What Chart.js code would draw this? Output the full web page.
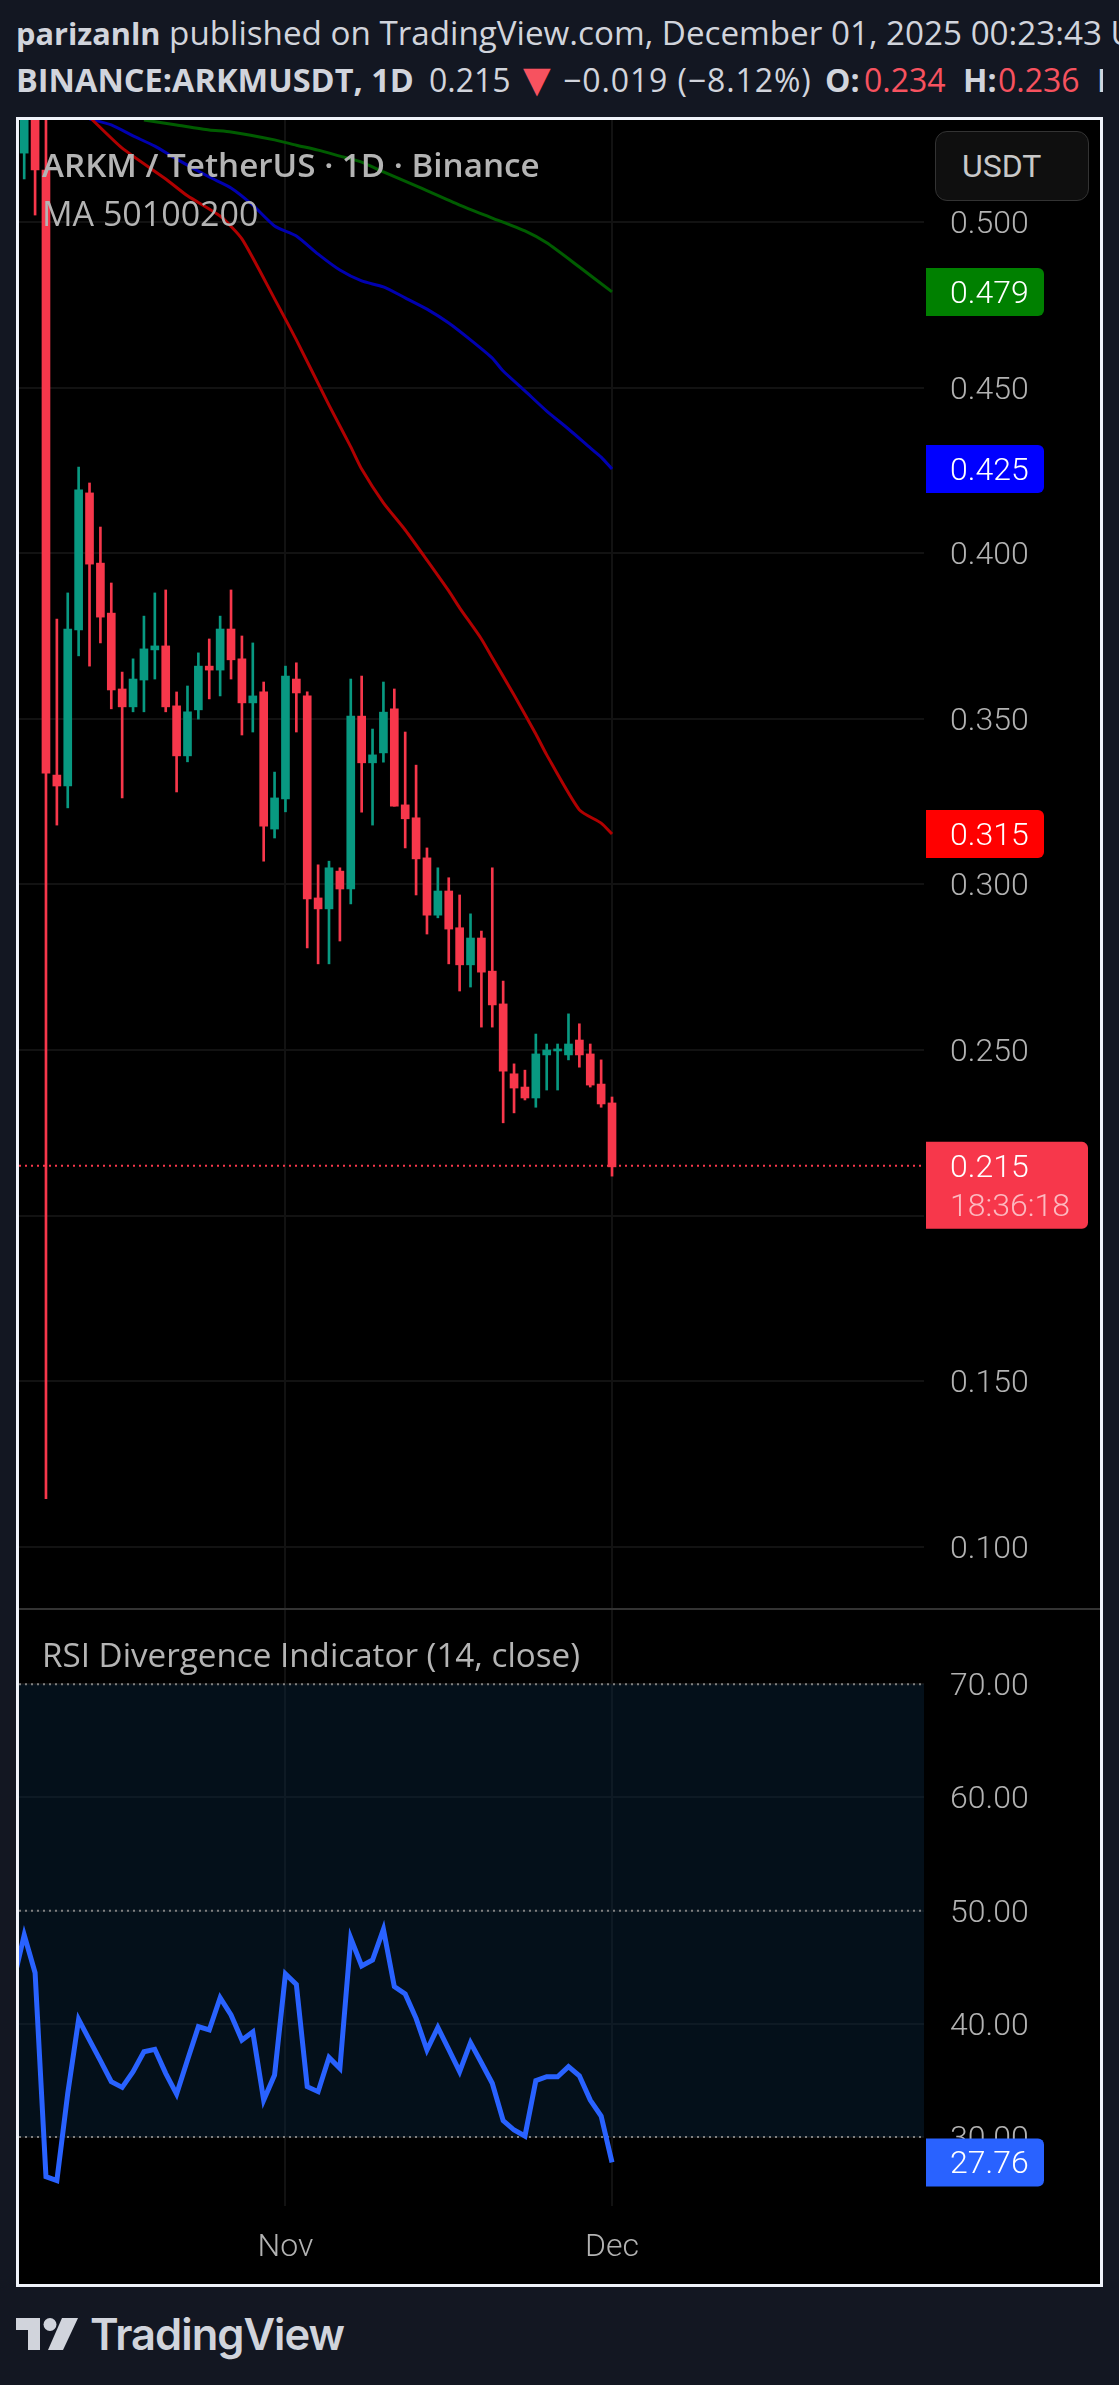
<!DOCTYPE html>
<html>
<head>
<meta charset="utf-8">
<title>ARKMUSDT</title>
<script src="https://cdn.jsdelivr.net/npm/chart.js@4/dist/chart.umd.js"></script>
<style>
    html, body { margin: 0; padding: 0; background: #131722; }
    body { width: 1119px; height: 2385px; position: relative; overflow: hidden; }
    .head { position: absolute; white-space: nowrap; font-family: "Open Sans", sans-serif; font-size: 32px; color: #d1d4dc; line-height: 44px; }
    .head b { font-weight: 700; }
    .red { color: #f7525f; }
    #frame { position: absolute; left: 16px; top: 117px; width: 1081px; height: 2164px; border: 3px solid #f0f3fa; background: #000; }
    #frame canvas { position: absolute; left: 0; }
    #sep { position: absolute; left: 0; top: 1488px; width: 1081px; height: 2px; background: #333; }
    .legend { position: absolute; left: 23px; white-space: nowrap; font-family: "Open Sans", sans-serif; font-size: 33.2px; line-height: 40px; color: #b4b4b4; }
    #usdt { position: absolute; left: 916px; top: 11px; width: 152px; height: 68px; border: 1px solid #333; border-radius: 12px; background: #0f0f0f;
            font-family: Roboto, sans-serif; font-size: 32px; line-height: 68px; color: #c8c8c8; padding-left: 0; text-indent: 26px; }
    #logoText { position: absolute; left: 90px; top: 2306px; font-family: Inter, sans-serif; font-weight: 600; font-size: 43.5px; line-height: 56px; color: #d1d4dc; letter-spacing: -1px; }
    #logo { position: absolute; left: 16px; top: 2318px; }
</style>
</head>
<body>
<div class="head" style="left:16px;top:11px;font-size:33.2px"><b style="font-size:30.7px">parizanln</b> published on TradingView.com, December 01, 2025 00:23:43 UTC</div>
<div class="head" style="left:16px;top:58px;font-size:32.5px"><b>BINANCE:ARKMUSDT, 1D</b></div>
<div class="head" style="left:429px;top:58px">0.215</div>
<div class="head red" style="left:523px;top:58px;font-family:'DejaVu Sans';font-size:36px">▼</div>
<div class="head" style="left:563px;top:58px;letter-spacing:0.9px">−0.019 (−8.12%)</div>
<div class="head" style="left:825px;top:58px"><b>O:</b></div>
<div class="head red" style="left:864px;top:58px">0.234</div>
<div class="head" style="left:963px;top:58px"><b>H:</b></div>
<div class="head red" style="left:998px;top:58px">0.236</div>
<div class="head" style="left:1097px;top:58px;width:6px;overflow:hidden"><b>L</b></div>

<div id="frame">
    <canvas id="priceChart" width="1081" height="1488" style="top:0"></canvas>
    <div id="sep"></div>
    <canvas id="rsiChart" width="1081" height="674" style="top:1490px"></canvas>
    <div class="legend" style="top:25px;font-weight:600">ARKM / TetherUS · 1D · Binance</div>
    <div class="legend" style="top:73px;font-size:34px">MA 50100200</div>
    <div class="legend" style="top:1515px">RSI Divergence Indicator (14, close)</div>
    <div id="usdt">USDT</div>
</div>

<svg id="logo" width="62" height="32" viewBox="0 0 62 32">
    <path fill="#d1d4dc" d="M0 0H24V32H12V12H0Z"/>
    <circle fill="#d1d4dc" cx="34" cy="6.5" r="6.5"/>
    <path fill="#d1d4dc" d="M46 0H62L47 32H32Z"/>
</svg>
<div id="logoText">TradingView</div>

<script>
// bougies journalieres, index 0 = premiere bougie visible
const opens = [0.5208, 0.5450, 0.5157, 0.3330, 0.3297, 0.3768, 0.4182, 0.3970, 0.3819, 0.3590, 0.3536, 0.3617, 0.3708, 0.3720, 0.3539, 0.3388, 0.3527, 0.3659, 0.3647, 0.3771, 0.3681, 0.3548, 0.3581, 0.3167, 0.3258, 0.3620, 0.3569, 0.2959, 0.2926, 0.3040, 0.2986, 0.3508, 0.3367, 0.3397, 0.3530, 0.3240, 0.3201, 0.3080, 0.2907, 0.2980, 0.2869, 0.2757, 0.2838, 0.2738, 0.2639, 0.2428, 0.2388, 0.2355, 0.2485, 0.2497, 0.2485, 0.2530, 0.2488, 0.2397, 0.2340];
const highs = [0.5600, 0.5500, 0.5600, 0.3801, 0.3880, 0.4260, 0.4212, 0.4079, 0.3910, 0.3641, 0.3681, 0.3810, 0.3880, 0.3889, 0.3581, 0.3599, 0.3699, 0.3741, 0.3810, 0.3889, 0.3750, 0.3729, 0.3611, 0.3339, 0.3659, 0.3669, 0.3581, 0.3059, 0.3070, 0.3050, 0.3620, 0.3629, 0.3469, 0.3611, 0.3590, 0.3460, 0.3360, 0.3110, 0.3050, 0.3020, 0.2968, 0.2911, 0.2859, 0.3050, 0.2708, 0.2458, 0.2439, 0.2548, 0.2518, 0.2518, 0.2609, 0.2579, 0.2518, 0.2470, 0.2358];
const lows = [0.5130, 0.5021, 0.1145, 0.3179, 0.3231, 0.3690, 0.3659, 0.3729, 0.3530, 0.3261, 0.3521, 0.3521, 0.3620, 0.3521, 0.3279, 0.3370, 0.3499, 0.3560, 0.3569, 0.3620, 0.3451, 0.3460, 0.3070, 0.3140, 0.3219, 0.3460, 0.2808, 0.2760, 0.2760, 0.2829, 0.2941, 0.3218, 0.3179, 0.3369, 0.3236, 0.3110, 0.2968, 0.2850, 0.2899, 0.2760, 0.2678, 0.2690, 0.2569, 0.2569, 0.2280, 0.2310, 0.2349, 0.2327, 0.2379, 0.2379, 0.2470, 0.2448, 0.2388, 0.2327, 0.2119];
const closes = [0.5450, 0.5157, 0.3336, 0.3297, 0.3771, 0.4191, 0.3967, 0.3807, 0.3587, 0.3536, 0.3620, 0.3711, 0.3720, 0.3536, 0.3388, 0.3521, 0.3659, 0.3647, 0.3771, 0.3678, 0.3548, 0.3569, 0.3176, 0.3261, 0.3629, 0.3578, 0.2956, 0.2926, 0.3050, 0.2986, 0.3508, 0.3367, 0.3391, 0.3520, 0.3236, 0.3198, 0.3077, 0.2907, 0.2980, 0.2865, 0.2757, 0.2838, 0.2735, 0.2636, 0.2436, 0.2385, 0.2355, 0.2488, 0.2500, 0.2503, 0.2518, 0.2485, 0.2394, 0.2337, 0.2147];

// moyennes mobiles
const ma50Index = [6, 9, 13, 15, 18, 20, 23, 25, 28, 30, 31, 33, 35, 37, 39, 40, 42, 43, 45, 47, 48, 51, 53, 54];
const ma50Values = [0.5317, 0.5223, 0.5130, 0.5079, 0.5018, 0.4949, 0.4768, 0.4644, 0.4447, 0.4321, 0.4254, 0.4152, 0.4070, 0.3979, 0.3886, 0.3835, 0.3741, 0.3684, 0.3572, 0.3454, 0.3391, 0.3225, 0.3185, 0.3152];
const ma100Index = [6, 8, 10, 12, 14, 17, 19, 21, 23, 25, 27, 29, 31, 33, 35, 37, 39, 41, 43, 44, 46, 48, 50, 52, 53, 54];
const ma100Values = [0.5311, 0.5293, 0.5260, 0.5229, 0.5190, 0.5136, 0.5103, 0.5051, 0.4988, 0.4958, 0.4903, 0.4855, 0.4822, 0.4804, 0.4771, 0.4737, 0.4695, 0.4644, 0.4589, 0.4550, 0.4490, 0.4429, 0.4375, 0.4318, 0.4290, 0.4254];
const ma200Index = [11, 14, 17, 19, 23, 25, 27, 29, 31, 33, 36, 40, 43, 46, 48, 51, 54];
const ma200Values = [0.5308, 0.5293, 0.5278, 0.5272, 0.5248, 0.5232, 0.5217, 0.5199, 0.5181, 0.5151, 0.5109, 0.5051, 0.5012, 0.4973, 0.4937, 0.4864, 0.4789];

// rsi, le premier point est une bougie avant le bord gauche
const rsiStart = -1;
const rsiValues = [43.7, 47.85, 44.52, 26.50, 26.15, 33.86, 40.40, 38.57, 36.75, 34.89, 34.39, 35.78, 37.54, 37.75, 35.63, 33.80, 36.81, 39.75, 39.46, 42.31, 40.78, 38.57, 39.28, 33.27, 35.48, 44.41, 43.49, 34.45, 34.01, 37.04, 36.07, 47.56, 45.11, 45.64, 48.35, 43.29, 42.64, 40.49, 37.69, 39.69, 37.75, 35.78, 38.34, 36.57, 34.75, 31.45, 30.62, 30.09, 34.98, 35.33, 35.33, 36.22, 35.42, 33.27, 31.86, 27.76];

// axes
const priceTicks = [0.1, 0.15, 0.2, 0.25, 0.3, 0.35, 0.4, 0.45, 0.5];
const rsiTicks = [30, 40, 50, 60, 70];
const rsiLevels = [30, 50, 70];
const monthIndex = [24, 54];
const monthLabels = ["Nov", "Dec"];
const lastPrice = 0.215;
const countdown = "18:36:18";

const UP = "#089981";
const DOWN = "#f7374b";
const GRID = "#121212";
const TEXT = "#b2b2b2";
const AXIS_FONT = { family: "Roboto", size: 32, weight: "300" };
const X_MIN = -0.478;
const X_MAX = 82.66;

const toPoints = (index, values) => index.map((x, i) => ({ x: x, y: values[i] }));

// pas de marge automatique autour de la zone de trace
function noPadding(axis) {
    axis.paddingTop = 0;
    axis.paddingBottom = 0;
    axis.paddingLeft = 0;
    axis.paddingRight = 0;
}

// etiquettes de valeur sur l'axe de droite
function valueBoxes(boxes) {
    return {
        id: "valueBoxes",
        afterDraw(chart) {
            const ctx = chart.ctx;
            boxes.forEach(box => {
                const y = chart.scales.y.getPixelForValue(box.value);
                const h = box.sub ? 87 : 48;
                const w = box.sub ? 162 : 118;
                ctx.save();
                ctx.fillStyle = box.color;
                ctx.beginPath();
                ctx.roundRect(907, y - 24, w, h, [0, 6, 6, 0]);
                ctx.fill();
                ctx.font = "300 32px Roboto";
                ctx.textBaseline = "middle";
                ctx.fillStyle = "#ffffff";
                ctx.fillText(box.text, 931, y + 3);
                if (box.sub) {
                    ctx.fillStyle = "rgba(255,255,255,0.65)";
                    ctx.fillText(box.sub, 931, y + 42);
                }
                ctx.restore();
            });
        }
    };
}

function xAxis(showLabels) {
    return {
        type: "linear",
        min: X_MIN,
        max: X_MAX,
        offset: false,
        afterBuildTicks: axis => { axis.ticks = monthIndex.map(v => ({ value: v })); },
        afterFit: axis => { axis.height = showLabels ? 78 : 0; noPadding(axis); },
        grid: { color: GRID, lineWidth: 2, drawTicks: false, offset: false },
        border: { display: false },
        ticks: {
            display: showLabels,
            autoSkip: false,
            maxRotation: 0,
            padding: 23,
            color: TEXT,
            font: AXIS_FONT,
            callback: value => monthLabels[monthIndex.indexOf(value)]
        }
    };
}

function yAxis(min, max, ticks, digits) {
    return {
        position: "right",
        min: min,
        max: max,
        afterBuildTicks: axis => { axis.ticks = ticks.map(v => ({ value: v })); },
        afterFit: axis => { axis.width = 176; noPadding(axis); },
        grid: { color: GRID, lineWidth: 2, drawTicks: false },
        border: { display: false },
        ticks: {
            padding: 26,
            labelOffset: 3,
            color: TEXT,
            font: AXIS_FONT,
            callback: value => value.toFixed(digits)
        }
    };
}

function maDataset(index, values, color) {
    return { type: "line", data: toPoints(index, values), borderColor: color, borderWidth: 3, pointRadius: 0, tension: 0.2, order: 1 };
}

document.addEventListener("DOMContentLoaded", function () {
    const colors = closes.map((c, i) => (c >= opens[i] ? UP : DOWN));

    // graphique des prix
    new Chart(document.getElementById("priceChart"), {
        type: "bar",
        data: {
            datasets: [
                {
                    type: "line",
                    data: [{ x: X_MIN, y: lastPrice }, { x: X_MAX, y: lastPrice }],
                    borderColor: DOWN,
                    borderWidth: 2,
                    borderDash: [2, 4],
                    pointRadius: 0,
                    order: 5
                },
                {
                    data: highs.map((h, i) => ({ x: i, y: [lows[i], h] })),
                    backgroundColor: colors,
                    barThickness: 2,
                    grouped: false,
                    order: 3
                },
                {
                    data: opens.map((o, i) => ({ x: i, y: [o, closes[i]] })),
                    backgroundColor: colors,
                    barThickness: 8,
                    grouped: false,
                    order: 2
                },
                maDataset(ma50Index, ma50Values, "#b00000"),
                maDataset(ma100Index, ma100Values, "#0000b0"),
                maDataset(ma200Index, ma200Values, "#005c00")
            ]
        },
        options: {
            responsive: false,
            animation: false,
            devicePixelRatio: 1,
            layout: { padding: 0 },
            plugins: { legend: { display: false }, tooltip: { enabled: false } },
            scales: {
                x: xAxis(false),
                y: yAxis(0.0815, 0.5308, priceTicks, 3)
            }
        },
        plugins: [valueBoxes([
            { value: ma200Values[ma200Values.length - 1], color: "#008000", text: ma200Values[ma200Values.length - 1].toFixed(3) },
            { value: ma100Values[ma100Values.length - 1], color: "#0000ff", text: ma100Values[ma100Values.length - 1].toFixed(3) },
            { value: ma50Values[ma50Values.length - 1], color: "#ff0000", text: ma50Values[ma50Values.length - 1].toFixed(3) },
            { value: lastPrice, color: DOWN, text: lastPrice.toFixed(3), sub: countdown }
        ])]
    });

    // niveaux du rsi en pointilles, le niveau 70 remplit la bande jusqu'a 30
    const levelSets = rsiLevels.map(level => ({
        type: "line",
        data: [{ x: X_MIN, y: level }, { x: X_MAX, y: level }],
        borderColor: "#808080",
        borderWidth: 2,
        borderDash: [2, 4],
        pointRadius: 0,
        fill: level === 70 ? { value: 30 } : false,
        backgroundColor: "rgba(10,40,66,0.4)",
        order: 4
    }));

    const lastRsi = rsiValues[rsiValues.length - 1];

    // graphique du rsi
    new Chart(document.getElementById("rsiChart"), {
        type: "line",
        data: {
            datasets: levelSets.concat([{
                data: rsiValues.map((v, i) => ({ x: rsiStart + i, y: v })),
                borderColor: "#2962ff",
                borderWidth: 5,
                pointRadius: 0,
                tension: 0,
                order: 1
            }])
        },
        options: {
            responsive: false,
            animation: false,
            devicePixelRatio: 1,
            layout: { padding: 0 },
            plugins: { legend: { display: false }, tooltip: { enabled: false } },
            scales: {
                x: xAxis(true),
                y: yAxis(23.91, 76.56, rsiTicks, 2)
            }
        },
        plugins: [valueBoxes([{ value: lastRsi, color: "#2962ff", text: lastRsi.toFixed(2) }])]
    });
});
</script>
</body>
</html>
